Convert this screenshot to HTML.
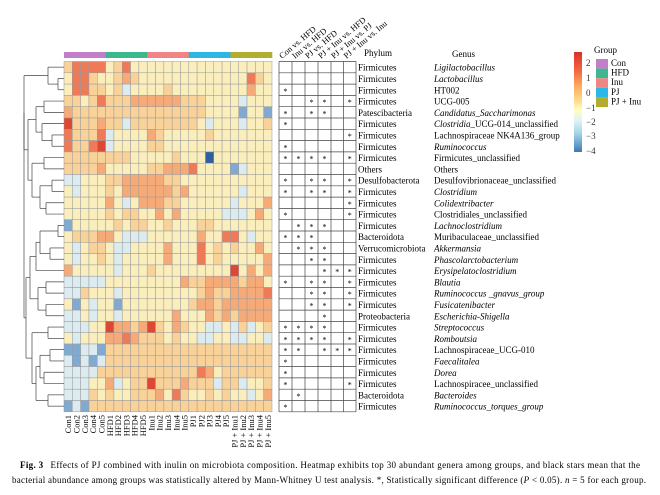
<!DOCTYPE html>
<html><head><meta charset="utf-8"><style>
body{margin:0;background:#fff;}
svg{display:block;font-family:"Liberation Serif",serif;}
</style></head><body>
<svg id="s" width="660" height="495" xmlns="http://www.w3.org/2000/svg"></svg>
<script>
const S=document.getElementById('s');let h='';
const col={R:'#dc4834',r:'#ee7a58',o:'#f6aa78',p:'#f9d29a',y:'#fbeebd',b:'#dcebef',B:'#80aad2',D:'#2f5ea3'};
const rows=[
"prrrrypryyyyyyyyyyyyyyyyy",
"yrrpyypopyyyyyyyyyyyyyrpy",
"yrrppypbyyyypyyyyyyyyyoyy",
"ppyprpppoooooopppyyyybyyy",
"oppppppppppppppppyyyyByyB",
"Rpppoppbppppppppybyyybyyp",
"rppprbyyyyopyyyyypyyyyyyy",
"rpprRbyyyyppyyyyyyyyyyyyy",
"ppppppppyyyyypyyyDyyyyyyy",
"ppppoyyyyyppoooryyyyBbyyy",
"bbyyyppoooooppyyyyyyyyyyy",
"ybyyypyoooooopoyyyyyybyyy",
"yyyyyoybyoooppyyyyyybyyyo",
"yyyyypyppyyoyoyyyyybbbyoy",
"Byyyyypyppyypyyyppyyyyyyy",
"ypppooybbbyyyyyyoyyrrybyy",
"ybyppybbyyyyoyyyrypypyyoy",
"ybyypybyyyyyoyyyrypyyyyyo",
"oyyyyybyyypyyyyyyyyyRyoyo",
"bbbbbyyyyyyyyyoppoooopooy",
"bbpyyybyyyyyyyyypoppoooor",
"yBybyyByyyyyyyypoopoooooo",
"bbybyybyyyyyyoyyyopopoooo",
"bbbyyRoopoRpyopyybbybpbyp",
"ybyyyooropppypyybbyybbyyb",
"BBbbBpppppppppppppppppppp",
"bBbBbpppppppppppppppppppp",
"bbbbpppppppppppproypppppp",
"bbbyyobyppRpppopppbppbyyp",
"bbbpypyypppoyrpyypypyybyo",
"BbBpppppppppppppppppppppp"];
const X0=64,CW=8.32,Y0=61.5,RH=11.3;
const gc=['#c27ec6','#3db78d','#ef8585','#2db7e6','#b3ad2f'];
for(let g=0;g<5;g++)h+=`<rect x="${X0+g*5*CW}" y="52" width="${5*CW+0.3}" height="6" fill="${gc[g]}"/>`;
rows.forEach((r,i)=>{for(let j=0;j<25;j++)h+=`<rect x="${X0+j*CW}" y="${Y0+i*RH}" width="${CW}" height="${RH}" fill="${col[r[j]]||col.y}" stroke="#9a9a9a" stroke-width="0.5"/>`;});
const cl=[];['Con','HFD','Inu','PJ','PJ + Inu'].forEach(g=>{for(let k=1;k<=5;k++)cl.push(g+k)});
cl.forEach((t,j)=>{const x=X0+j*CW+CW/2+3;h+=`<text x="${x}" y="415" transform="rotate(-90 ${x} 415)" text-anchor="end" font-size="8.5">${t}</text>`});
const L=(a,b,c,d)=>h+=`<line x1="${a}" y1="${b}" x2="${c}" y2="${d}" stroke="#444" stroke-width="0.7"/>`;
const yc=i=>Y0+i*RH+RH/2;
function pair(i,j,x){L(x,yc(i),64,yc(i));L(x,yc(j),64,yc(j));L(x,yc(i),x,yc(j));return (yc(i)+yc(j))/2;}
function join(y1,x1,y2,x2,x){L(x,y1,x1,y1);L(x,y2,x2,y2);L(x,y1,x,y2);return (y1+y2)/2;}
let a=pair(1,2,58),b=join(yc(0),64,a,58,48);
let c=pair(3,4,44),d=pair(6,7,52),e=join(yc(5),64,d,52,42),f=join(c,44,e,42,36);
let g2=pair(8,9,44),k=pair(10,11,52),l=pair(12,13,46),m=join(k,52,l,46,40),n=join(g2,44,m,40,32);
let o=join(f,36,n,32,28);let t1=join(b,48,o,28,24);
let p1=pair(14,15,58),q=pair(16,17,50),r1=join(p1,58,q,50,40),s1=join(yc(18),64,r1,40,36);
let u=pair(19,20,46),v=pair(21,22,46),w=join(u,46,v,46,38),x1=join(s1,36,w,38,30);
let y1=pair(23,24,48),z=pair(25,26,50),aa=pair(27,28,44),bb=join(z,50,aa,44,40),cc=pair(29,30,48),dd=join(bb,40,cc,48,36),ee=join(y1,48,dd,36,32),ff=join(x1,30,ee,32,26);
join(t1,24,ff,26,24);
const TX=[279,292,305,318,331,343.5,356];
const stars=[[],[],[1],[3,4,6],[1,3,4],[1],[6],[1],[1,2,3,4,6],[],[1,3,4,6],[1,3,4,6],[6],[1,6],[2,3,4],[1,2,3],[2,3,4],[3,4],[4,5,6],[1,3,4,6],[3,4,6],[3,4,6],[4],[1,2,3,4],[1,2,3,4,6],[1,2,4,5,6],[1],[1],[1,6],[2],[1]];
for(let i=0;i<=31;i++)L(TX[0],Y0+i*RH,TX[6],Y0+i*RH);
TX.forEach(x=>L(x,Y0,x,Y0+31*RH));
stars.forEach((s,i)=>s.forEach(c=>{h+=`<text x="${(TX[c-1]+TX[c])/2}" y="${yc(i)+4}" text-anchor="middle" font-size="8">*</text>`}));
const hd=['Con vs. HFD','Inu vs. HFD','PJ vs. HFD','PJ + Inu vs. HFD','PJ + Inu vs. PJ','PJ + Inu vs. Inu'];
hd.forEach((t,c)=>{const x=TX[c]+3,y=59;h+=`<text x="${x}" y="${y}" transform="rotate(-40 ${x} ${y})" font-size="8.5">${t}</text>`});
const ph=['Firmicutes','Firmicutes','Firmicutes','Firmicutes','Patescibacteria','Firmicutes','Firmicutes','Firmicutes','Firmicutes','Others','Desulfobacterota','Firmicutes','Firmicutes','Firmicutes','Firmicutes','Bacteroidota','Verrucomicrobiota','Firmicutes','Firmicutes','Firmicutes','Firmicutes','Firmicutes','Proteobacteria','Firmicutes','Firmicutes','Firmicutes','Firmicutes','Firmicutes','Firmicutes','Bacteroidota','Firmicutes'];
const ge=[['Ligilactobacillus',1],['Lactobacillus',1],['HT002',0],['UCG-005',0],['Candidatus_Saccharimonas',1],['<tspan font-style="italic">Clostridia</tspan>_UCG-014_unclassified',0],['Lachnospiraceae NK4A136_group',0],['Ruminococcus',1],['Firmicutes_unclassified',0],['Others',0],['Desulfovibrionaceae_unclassified',0],['Clostridium',1],['Colidextribacter',1],['Clostridiales_unclassified',0],['Lachnoclostridium',1],['Muribaculaceae_unclassified',0],['Akkermansia',1],['Phascolarctobacterium',1],['Erysipelatoclostridium',1],['Blautia',1],['Ruminococcus _gnavus_group',1],['Fusicatenibacter',1],['Escherichia-Shigella',1],['Streptococcus',1],['Romboutsia',1],['Lachnospiraceae_UCG-010',0],['Faecalitalea',1],['Dorea',1],['Lachnospiracee_unclassified',0],['Bacteroides',1],['Ruminococcus_torques_group',1]];
ph.forEach((t,i)=>{h+=`<text x="358" y="${yc(i)+3.5}" font-size="9">${t}</text>`});
ge.forEach((t,i)=>{h+=`<text x="434" y="${yc(i)+3.5}" font-size="9" ${t[1]?'font-style="italic"':''}>${t[0]}</text>`});
h+=`<text x="364" y="56" font-size="9">Phylum</text><text x="452" y="57" font-size="9">Genus</text>`;
h+=`<defs><linearGradient id="cb" x1="0" y1="0" x2="0" y2="1"><stop offset="0" stop-color="#d73027"/><stop offset="0.2" stop-color="#f46d43"/><stop offset="0.35" stop-color="#fdae61"/><stop offset="0.5" stop-color="#fee090"/><stop offset="0.58" stop-color="#ffffbf"/><stop offset="0.68" stop-color="#e0f3f8"/><stop offset="0.8" stop-color="#abd9e9"/><stop offset="0.9" stop-color="#74add1"/><stop offset="1" stop-color="#4575b4"/></linearGradient></defs>`;
h+=`<rect x="574" y="52" width="8" height="100" fill="url(#cb)"/>`;
[['2',66],['1',81],['0',96],['−1',111],['−2',125],['−3',139],['−4',154]].forEach(([t,y])=>h+=`<text x="586" y="${y}" font-size="9" fill="#333">${t}</text>`);
h+=`<text x="594" y="53" font-size="9">Group</text>`;
['Con','HFD','Inu','PJ','PJ + Inu'].forEach((t,i)=>{h+=`<rect x="596" y="${59+i*9.6}" width="12" height="9.6" fill="${gc[i]}"/><text x="611" y="${66+i*9.6}" font-size="9">${t}</text>`});
h+=`<text x="20" y="468" font-size="9" textLength="620"><tspan font-weight="bold">Fig. 3</tspan><tspan dx="7">Effects of PJ combined with inulin on microbiota composition. Heatmap exhibits top 30 abundant genera among groups, and black stars mean that the</tspan></text>`;
h+=`<text x="12" y="483" font-size="9" textLength="634">bacterial abundance among groups was statistically altered by Mann-Whitney U test analysis. *, Statistically significant difference (<tspan font-style="italic">P</tspan> &lt; 0.05). <tspan font-style="italic">n</tspan> = 5 for each group.</text>`;
S.innerHTML=h;
</script>
</body></html>
